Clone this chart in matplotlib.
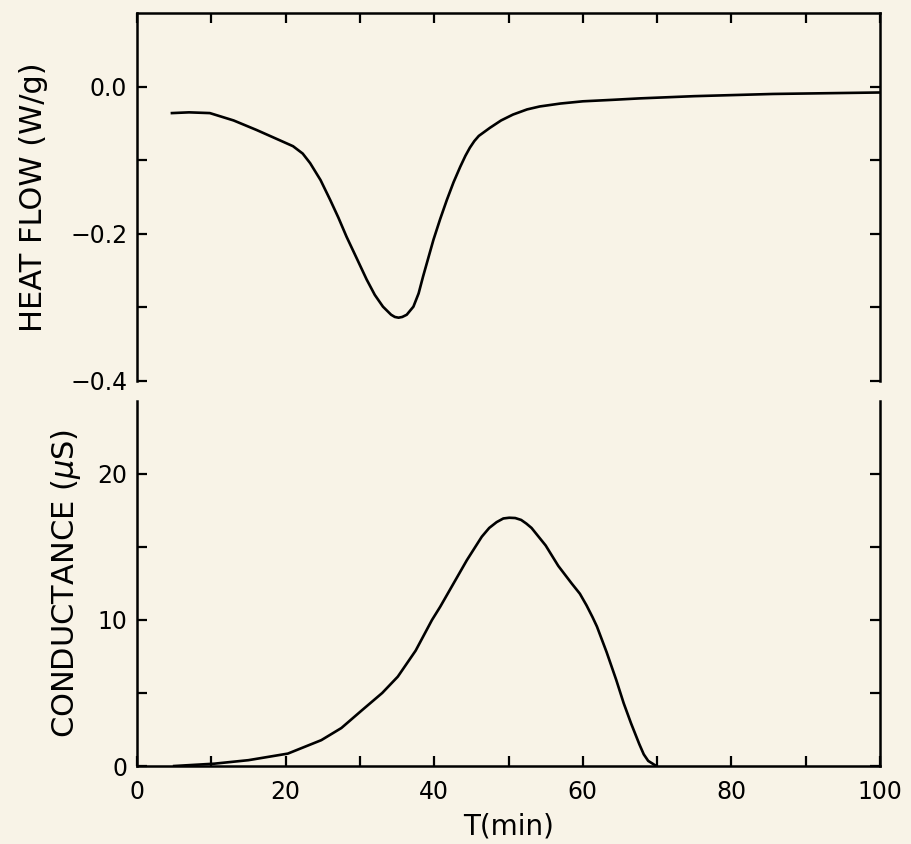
import matplotlib
matplotlib.use("Agg")
import matplotlib.pyplot as plt
from matplotlib.ticker import MultipleLocator, FixedLocator

plt.rcParams['font.family'] = ['DejaVu Sans']

BG = '#f8f3e7'

heat_time = [4.7, 7, 9.8, 13, 16.1, 19, 21.0, 22.3, 23.3, 24.7, 26.0, 27.1, 28.2,
             29.6, 30.9, 32.0, 33.1, 34.2, 34.7, 35.2, 35.7, 36.3, 37.2, 37.9,
             38.5, 39.2, 39.9, 40.8, 41.7, 42.6, 43.5, 44.2, 44.8, 45.4, 46.0,
             47.5, 49.0, 50.6, 52.5, 54.2, 57, 60, 64, 67.7, 75, 85.6, 100]
heat_flow = [-0.036, -0.035, -0.036, -0.046, -0.059, -0.072, -0.081, -0.091,
             -0.104, -0.127, -0.154, -0.178, -0.204, -0.234, -0.262, -0.283,
             -0.299, -0.310, -0.313, -0.314, -0.313, -0.310, -0.299, -0.281,
             -0.258, -0.233, -0.208, -0.180, -0.154, -0.130, -0.109, -0.094,
             -0.083, -0.074, -0.067, -0.056, -0.046, -0.038, -0.031, -0.027,
             -0.023, -0.020, -0.018, -0.016, -0.013, -0.010, -0.008]

cond_time = [5, 10.4, 15, 20.3, 24.8, 27.5, 30.3, 33, 35.1, 37.5, 39.7, 40.8,
             42.6, 44.4, 46.4, 47.4, 48.4, 49.3, 50.1, 50.9, 51.7, 52.4, 53.1,
             55, 56.7, 58.5, 59.6, 60.5, 61.3, 61.9, 63.2, 64.5, 65.5, 66.5,
             67.6, 68.2, 68.8, 69.9]
conductance = [0.0, 0.16, 0.4, 0.85, 1.77, 2.6, 3.83, 5.0, 6.12, 7.9, 10.0,
               10.9, 12.5, 14.1, 15.7, 16.3, 16.7, 16.95, 17.0, 16.98, 16.85,
               16.6, 16.3, 15.1, 13.7, 12.5, 11.8, 11.0, 10.2, 9.55, 7.8, 5.89,
               4.3, 2.91, 1.5, 0.8, 0.35, 0.0]

fig = plt.figure(figsize=(9.11, 8.44), dpi=100, facecolor=BG)
ax1 = fig.add_axes([0.1504, 0.5486, 0.8156, 0.4360])
ax2 = fig.add_axes([0.1504, 0.0924, 0.8156, 0.4326])


def style_axis(ax):
    ax.set_facecolor(BG)
    for side in ['left', 'right', 'top', 'bottom']:
        ax.spines[side].set_linewidth(1.8)
    ax.tick_params(which='both', direction='in', length=7, width=1.6,
                   labelsize=17, pad=7, left=True, right=True)
    ax.tick_params(axis='x', pad=10)
    ax.set_xlim(0, 100)
    ax.xaxis.set_major_locator(MultipleLocator(20))
    ax.xaxis.set_minor_locator(MultipleLocator(10))


style_axis(ax1)
ax1.plot(heat_time, heat_flow, color='black', lw=1.9)
ax1.set_ylim(-0.4, 0.1)
ax1.yaxis.set_major_locator(FixedLocator([-0.4, -0.2, 0.0]))
ax1.yaxis.set_minor_locator(FixedLocator([-0.3, -0.1]))
ax1.spines['bottom'].set_visible(False)
ax1.tick_params(axis='x', which='both', top=True, bottom=False,
                labelbottom=False, labeltop=False)
ax1.set_yticklabels(['\u22120.4', '\u22120.2', '0.0'])
ax1.set_ylabel('HEAT FLOW (W/g)', fontsize=22, labelpad=16)

style_axis(ax2)
ax2.plot(cond_time, conductance, color='black', lw=1.9)
ax2.set_ylim(0, 25)
ax2.yaxis.set_major_locator(MultipleLocator(10))
ax2.yaxis.set_minor_locator(FixedLocator([5, 15]))
ax2.spines['top'].set_visible(False)
ax2.tick_params(axis='x', which='both', top=False, bottom=True)
ax2.set_ylabel(r'CONDUCTANCE ($\mu$S)', fontsize=22, labelpad=10)
ax2.set_xlabel('T(min)', fontsize=20, labelpad=6)

fig.savefig('out.png', dpi=100, facecolor=BG)
